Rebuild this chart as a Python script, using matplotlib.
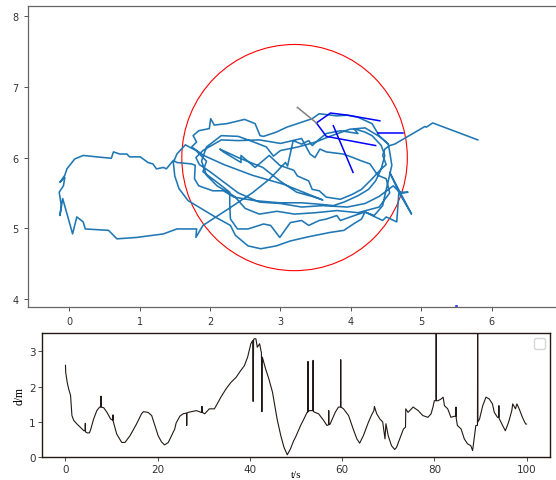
import matplotlib
matplotlib.use("Agg")
import matplotlib.pyplot as plt
from matplotlib.patches import Circle

# ---------------- top panel data ----------------
traj_x = [5.80, 5.16, 5.07, 5.05, 4.62, 4.55, 4.48,
          4.45, 4.50, 4.43, 4.35, 4.25, 4.10, 3.90, 3.75, 3.55, 3.30, 2.99, 2.64, 2.34, 2.19, 2.04, 1.84, 1.78, 1.79, 1.74, 1.53, 1.48,
          1.38, 1.34, 1.24, 1.19, 1.12, 1.01, 0.86, 0.82, 0.72, 0.63, 0.60, 0.39, 0.20, 0.08, -0.03, -0.06, -0.13, -0.06, -0.08, -0.14,
          -0.11, -0.13, -0.09, 0.05, 0.11, 0.20, 0.23, 0.56, 0.68, 0.96, 1.34, 1.53, 1.81, 1.80,
          1.90, 2.30, 2.60, 2.85, 3.07, 3.10,
          3.18, 3.30, 3.40, 3.45, 3.55, 3.65, 3.85, 4.10, 4.04, 4.20, 4.30, 4.43, 4.48, 4.43, 4.30, 4.15, 4.02, 3.85, 3.65, 3.55, 3.45,
          3.40, 3.24, 3.19, 2.99, 2.84, 2.64, 2.44, 2.44, 2.19, 2.14, 2.40, 2.75, 2.99, 3.23, 3.45, 3.60, 3.40, 3.05, 2.60, 2.20, 1.91,
          1.84, 1.74, 1.81, 1.76, 1.84, 1.99, 2.01, 2.06, 2.24, 2.49, 2.64, 2.71, 2.76, 2.94, 3.09, 3.30, 3.45, 3.55, 3.80, 3.95, 4.10,
          4.30, 4.40, 4.53, 4.55, 4.58, 4.53, 4.48, 4.45, 4.33, 4.20, 4.15, 4.05, 3.90, 3.70, 3.40, 3.14, 2.94, 2.72, 2.54, 2.36, 2.29,
          2.09, 1.84, 1.69, 1.56, 1.50, 1.48, 1.53, 1.65,
          1.80, 1.95, 1.90, 2.10, 2.28, 2.28, 2.29, 2.39, 2.54, 2.76, 2.86, 2.99, 3.14, 3.30, 3.40, 3.55, 3.65, 3.80, 3.85, 4.05, 4.20,
          4.30, 4.45, 4.50, 4.65, 4.68, 4.55, 4.86, 4.69, 4.81, 4.69,
          4.60, 4.40, 4.20, 3.95, 3.60, 3.30, 3.00, 2.70, 2.40, 2.20, 2.00, 1.85, 1.80, 1.90, 2.16, 2.40, 2.70, 3.00, 3.30, 3.42, 3.49,
          3.56, 3.65, 3.89, 4.03, 4.13, 4.27, 4.38, 4.50,
          4.55, 4.40, 4.10, 3.80, 3.50, 3.20, 2.95, 2.70, 2.50, 2.35, 2.10, 1.95, 1.88, 1.95, 2.16, 2.40, 2.62, 2.80, 2.90, 3.00, 3.25,
          3.50, 3.70, 3.98, 4.20, 4.40, 4.52]
traj_y = [6.25, 6.49, 6.43, 6.44, 6.19, 6.17, 6.12,
          6.03, 5.90, 5.84, 5.67, 5.55, 5.46, 5.37, 5.32, 5.34, 5.36, 5.36, 5.39, 5.44, 5.53, 5.53, 5.60, 5.70, 5.89, 5.91, 5.93, 5.96,
          5.84, 5.86, 5.84, 5.91, 5.93, 6.01, 6.01, 6.05, 6.05, 6.08, 5.99, 6.01, 6.03, 5.98, 5.84, 5.75, 5.65, 5.72, 5.60, 5.51,
          5.32, 5.18, 5.42, 4.92, 5.16, 5.09, 4.99, 4.97, 4.85, 4.87, 4.92, 4.99, 4.99, 4.87,
          5.04, 5.30, 5.50, 5.70, 5.93, 5.88,
          6.24, 6.19, 6.24, 6.17, 6.26, 6.34, 6.38, 6.34, 6.41, 6.36, 6.31, 6.17, 6.03, 5.84, 5.70, 5.55, 5.48, 5.41, 5.44, 5.53, 5.55,
          5.67, 5.74, 5.82, 5.89, 6.03, 5.86, 6.03, 5.93, 6.08, 6.12, 6.00, 5.86, 5.67, 5.51, 5.45, 5.40, 5.48, 5.62, 5.75, 5.90, 6.03,
          6.08, 6.15, 6.22, 6.31, 6.38, 6.41, 6.55, 6.46, 6.48, 6.54, 6.48, 6.31, 6.30, 6.36, 6.43, 6.50, 6.55, 6.62, 6.59, 6.60, 6.57,
          6.48, 6.31, 6.19, 6.08, 5.89, 5.67, 5.46, 5.32, 5.18, 5.23, 5.13, 5.07, 4.97, 4.94, 4.88, 4.82, 4.75, 4.71, 4.75, 4.90, 5.04,
          5.15, 5.30, 5.39, 5.56, 5.74, 5.93, 6.05, 6.18,
          6.10, 5.95, 5.80, 5.65, 5.51, 5.32, 5.13, 4.99, 4.99, 5.06, 5.04, 4.87, 5.08, 5.11, 5.04, 5.11, 5.13, 5.18, 5.11, 5.18, 5.23,
          5.18, 5.11, 5.16, 5.09, 5.51, 5.79, 5.20, 5.49, 5.51, 5.51,
          5.60, 5.45, 5.35, 5.30, 5.32, 5.30, 5.35, 5.37, 5.50, 5.65, 5.80, 5.90, 6.00, 6.10, 6.25, 6.24, 6.25, 6.20, 6.27, 6.05, 6.00,
          6.12, 6.08, 6.05, 6.00, 5.96, 5.91, 5.75, 5.70,
          5.50, 5.30, 5.22, 5.25, 5.22, 5.20, 5.24, 5.20, 5.28, 5.45, 5.60, 5.75, 5.95, 6.15, 6.31, 6.30, 6.22, 6.15, 6.02, 6.10, 6.15,
          6.22, 6.30, 6.40, 6.42, 6.30, 6.20]

circle_center = (3.2, 6.0)
circle_radius = 1.6

blue_segments = [
    ([3.51, 3.71, 3.95, 4.41], [6.49, 6.63, 6.60, 6.52]),
    ([3.51, 3.65, 4.35], [6.49, 6.30, 6.17]),
    ([3.75, 4.03], [6.45, 5.79]),
    ([4.39, 4.74], [6.35, 6.35]),
    ([5.49, 5.51], [3.905, 3.905]),
]
gray_x = [3.24, 3.51]
gray_y = [6.71, 6.49]

# ---------------- bottom panel data ----------------
t = [0.0, 0.05, 0.4, 0.7, 1.1, 1.4, 1.8, 2.5, 3.2, 4.0, 4.25, 4.3, 4.35, 4.7, 5.2, 5.5, 6.1, 6.8, 7.4, 7.65, 7.7, 7.75,
     8.3, 9.0, 9.8, 10.25, 10.3, 10.35, 11.1, 12.2, 12.9, 14.0, 15.4, 16.5, 16.9, 17.9, 18.7, 19.4, 20.1, 20.8, 21.5,
     22.3, 23.0, 23.7, 24.0, 24.8, 25.5, 26.25, 26.3, 26.35, 26.6, 28.4, 29.4, 29.55, 29.6, 29.65, 30.2, 31.2, 32.3, 32.7,
     33.7, 34.8, 35.9, 37.0, 38.0, 38.8, 39.5, 40.2, 40.6, 40.7, 40.8, 40.9, 41.3, 41.6, 42.1, 42.5, 42.6, 42.7, 43.4, 44.1,
     44.9, 45.9, 46.7, 47.4, 48.1, 48.8, 49.5, 49.9, 51.0, 51.7, 52.4, 52.55, 52.6, 52.65, 52.9, 53.3, 53.65, 53.7, 53.75,
     54.1, 54.9, 56.0, 56.7, 57.05, 57.1, 57.15, 57.4, 58.5, 59.2, 59.65, 59.7, 59.75, 60.3, 61.4, 62.4, 63.2, 63.8, 64.6,
     65.7, 66.4, 66.9, 67.0, 67.5, 68.2, 68.8, 69.3, 69.5, 70.0, 70.7, 71.4, 71.8, 72.5, 73.3, 73.75, 73.8, 74.3, 75.4, 76.5,
     77.5, 78.6, 79.3, 79.7, 80.0, 80.35, 80.4, 80.45, 80.8, 81.5, 81.9, 82.2, 82.9, 83.6, 84.3, 84.65, 84.7, 84.75, 85.0,
     85.8, 86.5, 87.2, 87.9, 88.3, 89.0, 89.35, 89.4, 89.45, 89.8, 90.5, 91.2, 91.9, 92.6, 93.0, 93.7, 93.95, 94.0, 94.05,
     94.8, 95.4, 96.1, 96.8, 97.0, 97.6, 97.9, 98.4, 99.1, 99.8, 100.0]
d = [2.60, 2.40, 2.10, 1.93, 1.75, 1.18, 1.04, 0.94, 0.85, 0.75, 0.75, 0.96, 0.72, 0.69, 0.69, 0.80, 1.08, 1.32, 1.42, 1.42, 1.73, 1.42,
     1.40, 1.27, 1.08, 1.05, 1.20, 1.02, 0.66, 0.42, 0.42, 0.61, 0.94, 1.23, 1.29, 1.27, 1.18, 0.90, 0.61, 0.44, 0.35,
     0.42, 0.61, 0.80, 0.97, 1.16, 1.23, 1.25, 0.90, 1.25, 1.27, 1.32, 1.27, 1.27, 1.44, 1.27, 1.23, 1.37, 1.37, 1.46,
     1.70, 1.93, 2.12, 2.26, 2.45, 2.59, 2.83, 3.21, 3.30, 1.58, 3.32, 3.35, 3.35, 3.11, 3.21, 2.95, 1.29, 2.83, 2.50, 2.22,
     1.84, 1.08, 0.61, 0.28, 0.07, 0.24, 0.47, 0.57, 0.90, 1.08, 1.27, 1.27, 2.71, 1.30, 1.32, 1.32, 1.32, 2.74, 1.30,
     1.27, 1.23, 1.04, 0.90, 0.92, 1.32, 0.92, 0.94, 1.27, 1.42, 1.42, 2.76, 1.42, 1.37, 1.18, 0.80, 0.52, 0.40, 0.61,
     0.99, 1.20, 1.32, 1.44, 1.23, 1.08, 1.00, 0.52, 0.95, 0.61, 0.33, 0.22, 0.28, 0.52, 0.80, 0.85, 1.37, 1.27, 1.42, 1.32,
     1.18, 1.13, 1.23, 1.42, 1.60, 1.60, 4.00, 1.60, 1.60, 1.65, 1.70, 1.46, 1.37, 1.13, 1.16, 1.16, 1.42, 1.10, 0.90,
     0.80, 0.52, 0.38, 0.33, 0.19, 0.90, 0.90, 4.00, 1.00, 1.08, 1.46, 1.70, 1.65, 1.51, 1.27, 1.13, 1.13, 1.46, 1.10,
     0.90, 0.75, 0.99, 1.32, 1.51, 1.37, 1.51, 1.37, 1.13, 0.94, 0.94]

# ---------------- figure ----------------
fig = plt.figure(figsize=(5.56, 4.81), dpi=100)

ax1 = fig.add_axes([0.0498, 0.3603, 0.968, 0.6245])
ax1.plot(traj_x, traj_y, color="#1f77b4", lw=1.15)
ax1.add_patch(Circle(circle_center, circle_radius, fill=False, edgecolor="red", lw=0.8))
for sx, sy in blue_segments:
    ax1.plot(sx, sy, color="blue", lw=1.1)
ax1.plot(gray_x, gray_y, color="gray", lw=1.1)
ax1.set_xlim(-0.587, 7.05)
ax1.set_ylim(3.89, 8.14)
ax1.set_xticks([0, 1, 2, 3, 4, 5, 6])
ax1.set_yticks([4, 5, 6, 7, 8])
ax1.tick_params(labelsize=7, length=3, width=0.6, colors="#333333")
for s in ax1.spines.values():
    s.set_color("#666666")
    s.set_linewidth(0.9)

ax2 = fig.add_axes([0.0763, 0.0472, 0.9122, 0.2574])
ax2.plot(t, d, color="#231815", lw=0.8)
ax2.set_xlim(-5, 105)
ax2.set_ylim(0, 3.5)
ax2.set_xticks([0, 20, 40, 60, 80, 100])
ax2.set_yticks([0, 1, 2, 3])
ax2.tick_params(labelsize=7.5, length=3, width=0.6, pad=2, colors="#333333")
for s in ax2.spines.values():
    s.set_color("#231815")
    s.set_linewidth(1.0)
ax2.set_xlabel("t/s", family="Liberation Serif", fontsize=8, labelpad=-3)
ax2.set_ylabel("d/m", family="Liberation Serif", fontsize=8.5, labelpad=2)
leg = ax2.legend(handles=[], loc="upper right", frameon=True, borderpad=0.5,
                 fontsize=8, borderaxespad=0.4)
leg.get_frame().set_edgecolor("#cccccc")

fig.savefig("out.png", dpi=100)
